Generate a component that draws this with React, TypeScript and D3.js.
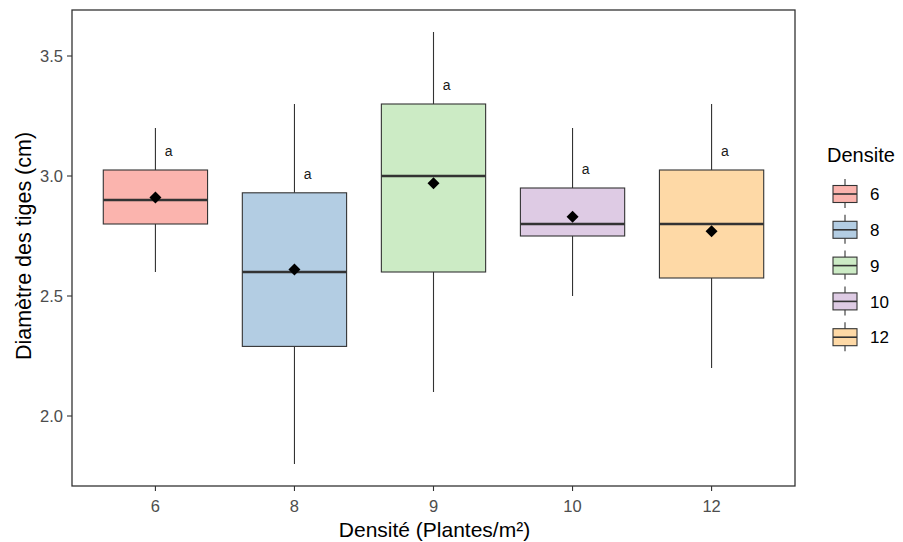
import React from "react";
import * as d3 from "d3";

const categories = ["6", "8", "9", "10", "12"];
const whiskerLow = [2.6, 1.8, 2.1, 2.5, 2.2];
const q1 = [2.8, 2.29, 2.6, 2.75, 2.575];
const medians = [2.9, 2.6, 3.0, 2.8, 2.8];
const q3 = [3.025, 2.93, 3.3, 2.95, 3.025];
const whiskerHigh = [3.2, 3.3, 3.6, 3.2, 3.3];
const means = [2.91, 2.61, 2.97, 2.83, 2.77];
const letters = ["a", "a", "a", "a", "a"];
const colors = ["#FBB4AE", "#B3CDE3", "#CCEBC5", "#DECBE4", "#FED9A6"];
const yTicks = [2.0, 2.5, 3.0, 3.5];

const W = 903;
const H = 542;
const left = 72, right = 795, top = 10, bottom = 486;
const font = "'Liberation Sans', Arial, sans-serif";
const stroke = "#333333";

export default function App() {
  const unit = (right - left) / (categories.length - 1 + 1.2);
  const cx = (i: number) => left + unit * (0.6 + i);
  const y = d3.scaleLinear().domain([2.0, 3.5]).range([416, 56]);
  const bw = unit * 0.75;
  const diamond = d3.symbol(d3.symbolSquare, 72)() as string;

  return (
    <svg width={W} height={H} style={{ position: "absolute", left: 0, top: 0 }} fontFamily={font}>
      <rect x={0} y={0} width={W} height={H} fill="white" />
      {categories.map((c, i) => {
        const xc = cx(i);
        return (
          <g key={c}>
            <line x1={xc} x2={xc} y1={y(whiskerHigh[i])} y2={y(q3[i])} stroke={stroke} strokeWidth={1.1} />
            <line x1={xc} x2={xc} y1={y(q1[i])} y2={y(whiskerLow[i])} stroke={stroke} strokeWidth={1.1} />
            <rect x={xc - bw / 2} y={y(q3[i])} width={bw} height={y(q1[i]) - y(q3[i])} fill={colors[i]} stroke={stroke} strokeWidth={1.1} />
            <line x1={xc - bw / 2} x2={xc + bw / 2} y1={y(medians[i])} y2={y(medians[i])} stroke={stroke} strokeWidth={2.6} />
            <path d={diamond} transform={`translate(${xc},${y(means[i])}) rotate(45)`} fill="black" />
            <text x={xc + unit * 0.095} y={y(q3[i] + 0.08)} dy="0.35em" fontSize={14} fill="#1a1a1a" textAnchor="middle">{letters[i]}</text>
          </g>
        );
      })}
      <rect x={left} y={top} width={right - left} height={bottom - top} fill="none" stroke={stroke} strokeWidth={1.3} />
      {yTicks.map((t) => (
        <g key={t}>
          <line x1={left - 5} x2={left} y1={y(t)} y2={y(t)} stroke={stroke} strokeWidth={1.1} />
          <text x={left - 9} y={y(t)} dy="0.36em" textAnchor="end" fontSize={16.5} fill="#4D4D4D">{t.toFixed(1)}</text>
        </g>
      ))}
      {categories.map((c, i) => (
        <g key={"xt" + c}>
          <line x1={cx(i)} x2={cx(i)} y1={bottom} y2={bottom + 5} stroke={stroke} strokeWidth={1.1} />
          <text x={cx(i)} y={bottom + 26} textAnchor="middle" fontSize={16.5} fill="#4D4D4D">{c}</text>
        </g>
      ))}
      <text x={(left + right) / 2 + 1} y={537} textAnchor="middle" fontSize={21} fill="black">Densité (Plantes/m²)</text>
      <text transform={`translate(31,${(top + bottom) / 2 - 2}) rotate(-90)`} textAnchor="middle" fontSize={21.5} fill="black">Diamètre des tiges (cm)</text>
      <text x={827} y={162} fontSize={20} fill="black">Densite</text>
      {categories.map((c, i) => {
        const yc = 194 + i * 35.8;
        return (
          <g key={"lg" + c}>
            <line x1={845} x2={845} y1={yc - 15} y2={yc + 14} stroke={stroke} strokeWidth={1.1} />
            <rect x={833} y={yc - 8.5} width={24} height={17} fill={colors[i]} stroke={stroke} strokeWidth={1.1} />
            <line x1={833} x2={857} y1={yc} y2={yc} stroke={stroke} strokeWidth={1.6} />
            <text x={870} y={yc} dy="0.36em" fontSize={17} fill="black">{c}</text>
          </g>
        );
      })}
    </svg>
  );
}
